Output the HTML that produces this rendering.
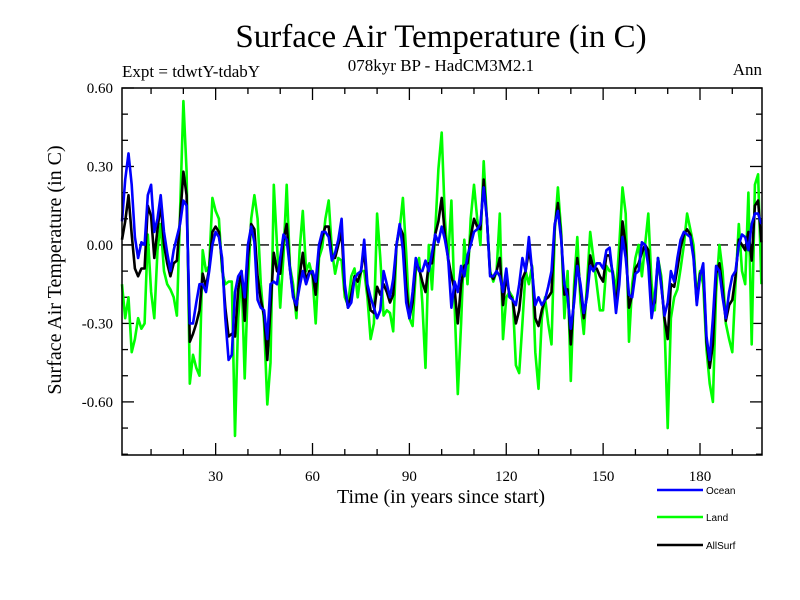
<!DOCTYPE html>
<html><head><meta charset="utf-8">
<style>
html,body{margin:0;padding:0;background:#fff;}
svg{display:block;}
.serif{font-family:"Liberation Serif",serif;}
.sans{font-family:"Liberation Sans",sans-serif;}
</style></head>
<body>
<svg id="chart" width="800" height="600" viewBox="0 0 800 600" xmlns="http://www.w3.org/2000/svg">
<rect width="800" height="600" fill="#fff"/>
<text class="serif" x="441" y="47" font-size="33" text-anchor="middle">Surface Air Temperature (in C)</text>
<text class="serif" x="122" y="77" font-size="17">Expt = tdwtY-tdabY</text>
<text class="serif" x="441" y="71" font-size="17" text-anchor="middle">078kyr BP - HadCM3M2.1</text>
<text class="serif" x="762" y="75" font-size="17" text-anchor="end">Ann</text>
<text class="serif" x="441" y="503" font-size="20" text-anchor="middle">Time (in years since start)</text>
<text class="serif" x="0" y="0" font-size="20" text-anchor="middle" transform="translate(61,270) rotate(-90)">Surface Air Temperature (in C)</text>
<g id="axes"></g>
<g id="series"></g>
<rect x="122" y="88" width="640" height="367" fill="none" stroke="#000" stroke-width="1.5"/>
<g id="legend"></g>
</svg>
<script>
const years = Array.from({length:199},(_,i)=>i+1);
const ocean = [0.09,0.25,0.35,0.23,0.03,-0.05,0.01,0.0,0.19,0.23,
0.05,0.1,0.19,0.05,-0.03,-0.1,-0.02,0.03,0.08,0.17,
0.15,-0.3,-0.3,-0.22,-0.15,-0.15,-0.18,-0.1,0.0,0.05,
0.03,-0.05,-0.28,-0.44,-0.42,-0.18,-0.12,-0.1,-0.2,0.0,
0.07,0.01,-0.21,-0.24,-0.25,-0.36,-0.15,-0.14,-0.15,-0.05,
0.04,0.02,-0.09,-0.2,-0.23,-0.16,-0.1,-0.15,-0.11,-0.1,
-0.14,0.0,0.05,0.05,0.03,-0.06,-0.03,0.02,0.1,-0.15,
-0.24,-0.22,-0.13,-0.11,-0.1,0.02,-0.15,-0.2,-0.24,-0.28,
-0.25,-0.1,-0.15,-0.2,-0.13,0.0,0.08,-0.02,-0.22,-0.28,
-0.18,-0.05,-0.1,-0.1,-0.06,-0.1,-0.03,0.04,0.01,0.07,
0.02,-0.05,-0.24,-0.14,-0.18,-0.08,-0.12,-0.04,0.0,0.05,
0.06,0.08,0.22,0.1,-0.12,-0.12,-0.1,-0.12,-0.18,-0.09,
-0.2,-0.21,-0.23,-0.15,-0.05,-0.1,0.03,-0.1,-0.23,-0.2,
-0.23,-0.21,-0.16,-0.1,0.08,0.13,0.02,-0.15,-0.2,-0.32,
-0.22,-0.08,-0.15,-0.26,-0.2,-0.08,-0.1,-0.07,-0.07,-0.09,
-0.02,-0.01,-0.12,-0.26,-0.15,0.03,-0.05,-0.19,-0.2,-0.11,
-0.1,0.01,0.0,-0.08,-0.28,-0.2,-0.05,-0.16,-0.27,-0.22,
-0.1,-0.14,-0.05,0.02,0.05,0.04,0.03,-0.05,-0.23,-0.12,
-0.07,-0.35,-0.44,-0.28,-0.08,-0.1,-0.2,-0.28,-0.18,-0.12,
-0.1,0.0,0.04,0.03,-0.02,0.08,0.12,0.12,0.08];
const land = [-0.15,-0.28,-0.2,-0.41,-0.36,-0.28,-0.32,-0.3,0.04,-0.18,
-0.28,-0.02,0.08,-0.1,-0.15,-0.17,-0.2,-0.27,0.13,0.55,
0.28,-0.53,-0.42,-0.47,-0.5,-0.02,-0.1,-0.08,0.18,0.13,
0.1,-0.1,-0.15,-0.14,-0.14,-0.73,-0.28,-0.1,-0.51,-0.15,
0.1,0.19,0.1,-0.15,-0.3,-0.61,-0.45,0.23,0.0,-0.24,
-0.04,0.23,-0.08,-0.15,-0.28,-0.02,0.13,-0.1,-0.07,-0.12,
-0.3,-0.05,-0.01,0.1,0.17,-0.02,-0.11,-0.05,-0.06,-0.2,
-0.23,-0.12,-0.09,-0.2,-0.1,-0.1,-0.2,-0.36,-0.3,0.12,
-0.05,-0.27,-0.25,-0.26,-0.33,0.0,0.06,0.18,-0.03,-0.28,
-0.31,-0.1,-0.05,-0.22,-0.47,0.0,-0.17,0.05,0.29,0.43,
0.1,-0.06,0.17,-0.23,-0.57,-0.3,0.02,-0.15,0.1,0.23,
0.1,0.0,0.32,0.1,-0.1,-0.14,-0.1,0.12,-0.36,-0.2,
-0.18,-0.2,-0.46,-0.49,-0.3,-0.1,-0.15,-0.08,-0.41,-0.55,
-0.28,-0.2,-0.3,-0.38,0.05,0.22,0.05,-0.28,-0.1,-0.52,
-0.15,0.03,-0.22,-0.34,-0.15,0.05,-0.05,-0.15,-0.25,-0.25,
-0.08,-0.1,-0.1,-0.18,0.0,0.22,0.12,-0.37,-0.15,-0.05,
0.0,-0.12,0.0,0.12,-0.15,-0.25,-0.05,-0.12,-0.3,-0.7,
-0.28,-0.2,-0.17,-0.09,0.0,0.12,0.06,0.0,-0.2,-0.1,
-0.15,-0.4,-0.53,-0.6,-0.18,0.0,-0.1,-0.3,-0.36,-0.41,
-0.15,0.08,-0.1,-0.15,0.2,-0.38,0.23,0.27,-0.15];
const allSurf = [0.02,0.09,0.19,0.04,-0.09,-0.12,-0.09,-0.09,0.15,0.11,
-0.05,0.06,0.16,0.0,-0.07,-0.12,-0.07,-0.06,0.1,0.28,
0.19,-0.37,-0.34,-0.3,-0.25,-0.11,-0.16,-0.09,0.05,0.07,
0.05,-0.07,-0.24,-0.35,-0.34,-0.35,-0.17,-0.1,-0.29,-0.05,
0.08,0.06,-0.12,-0.21,-0.27,-0.44,-0.24,-0.03,-0.1,-0.11,
0.02,0.08,-0.09,-0.19,-0.25,-0.12,-0.03,-0.14,-0.1,-0.11,
-0.19,-0.02,0.03,0.07,0.07,-0.05,-0.05,0.0,0.05,-0.17,
-0.24,-0.19,-0.12,-0.14,-0.1,-0.02,-0.17,-0.25,-0.26,-0.16,
-0.19,-0.15,-0.18,-0.22,-0.19,0.0,0.07,0.04,-0.16,-0.28,
-0.22,-0.07,-0.09,-0.14,-0.18,-0.07,-0.07,0.04,0.09,0.18,
0.04,-0.05,-0.12,-0.17,-0.3,-0.15,-0.08,-0.07,0.03,0.1,
0.07,0.06,0.25,0.1,-0.11,-0.13,-0.1,-0.05,-0.23,-0.12,
-0.19,-0.21,-0.3,-0.25,-0.13,-0.1,-0.02,-0.09,-0.28,-0.31,
-0.25,-0.21,-0.2,-0.18,0.07,0.16,0.03,-0.19,-0.17,-0.38,
-0.2,-0.05,-0.17,-0.28,-0.19,-0.04,-0.09,-0.09,-0.12,-0.14,
-0.04,-0.04,-0.11,-0.24,-0.1,0.09,0.0,-0.24,-0.19,-0.09,
-0.07,-0.03,0.0,-0.02,-0.24,-0.22,-0.05,-0.15,-0.28,-0.36,
-0.15,-0.16,-0.09,-0.01,0.04,0.06,0.04,-0.04,-0.22,-0.11,
-0.09,-0.37,-0.47,-0.38,-0.11,-0.07,-0.17,-0.29,-0.23,-0.21,
-0.12,0.02,0.0,-0.02,0.05,-0.06,0.15,0.17,0.01];
const xTickLabels = ["30","60","90","120","150","180"];
const yTickLabels = ["0.60","0.30","0.00","-0.30","-0.60"];

const NS="http://www.w3.org/2000/svg";
const X0=122,X1=762,Y0=88,Y1=455;
const xMin=1,xMax=199.2,yMin=-0.803,yMax=0.60;
function xs(v){return X0+(v-xMin)/(xMax-xMin)*(X1-X0);}
function ys(v){return Y0+(yMax-v)/(yMax-yMin)*(Y1-Y0);}
function mk(tag,attrs,parent){const e=document.createElementNS(NS,tag);for(const k in attrs)e.setAttribute(k,attrs[k]);parent.appendChild(e);return e;}

const axes=document.getElementById('axes');
// x ticks
for(let v=10;v<=190;v+=10){
  const major=v%30===0, L=major?12:6, x=xs(v);
  const t=mk('line',{x1:x,x2:x,y1:Y1,y2:Y1-L,stroke:'#000','stroke-width':1.3},axes);
  
  
  const t2=mk('line',{x1:x,x2:x,y1:Y0,y2:Y0+L,stroke:'#000','stroke-width':1.3},axes);
  
  
}
xTickLabels.forEach(s=>{
  const tx=mk('text',{x:xs(+s),y:481,'font-size':15,'text-anchor':'middle','class':'serif'},axes);
  tx.textContent=s;
  
  
});
// y ticks
for(let k=-8;k<=6;k++){
  const v=k/10, major=(k%3===0), L=major?12:6, y=ys(v);
  const t=mk('line',{x1:X0,x2:X0+L,y1:y,y2:y,stroke:'#000','stroke-width':1.3},axes);
  
  
  const t2=mk('line',{x1:X1,x2:X1-L,y1:y,y2:y,stroke:'#000','stroke-width':1.3},axes);
  
  
}
yTickLabels.forEach(s=>{
  const tx=mk('text',{x:113,y:ys(parseFloat(s))+5,'font-size':15,'text-anchor':'end','class':'serif'},axes);
  tx.textContent=s;
  
  
});
const zl=mk('line',{x1:X0,x2:X1,y1:ys(0),y2:ys(0),stroke:'#000','stroke-width':1.3,'stroke-dasharray':'11,6'},axes);



const ser=document.getElementById('series');
function drawLine(vals,color,name){
  const d=vals.map((v,i)=>(i?'L':'M')+xs(years[i]).toFixed(1)+','+ys(v).toFixed(1)).join('');
  const p=mk('path',{d:d,fill:'none',stroke:color,'stroke-width':2.6,'stroke-linejoin':'round'},ser);
  
  
}
drawLine(land,'#00ff00','land-line');
drawLine(allSurf,'#000000','allsurf-line');
drawLine(ocean,'#0000ff','ocean-line');

const leg=document.getElementById('legend');
[['Ocean','#0000ff',490,'legend-entry-ocean'],['Land','#00ff00',517,'legend-entry-land'],['AllSurf','#000000',545,'legend-entry-allsurf']].forEach(r=>{
  const g=mk('g',{},leg);
  
  
  mk('line',{x1:657,x2:703,y1:r[2],y2:r[2],stroke:r[1],'stroke-width':2.6},g);
  const t=mk('text',{x:706,y:r[2]+4,'font-size':10,'class':'sans'},g);
  t.textContent=r[0];
});
</script>
</body></html>
